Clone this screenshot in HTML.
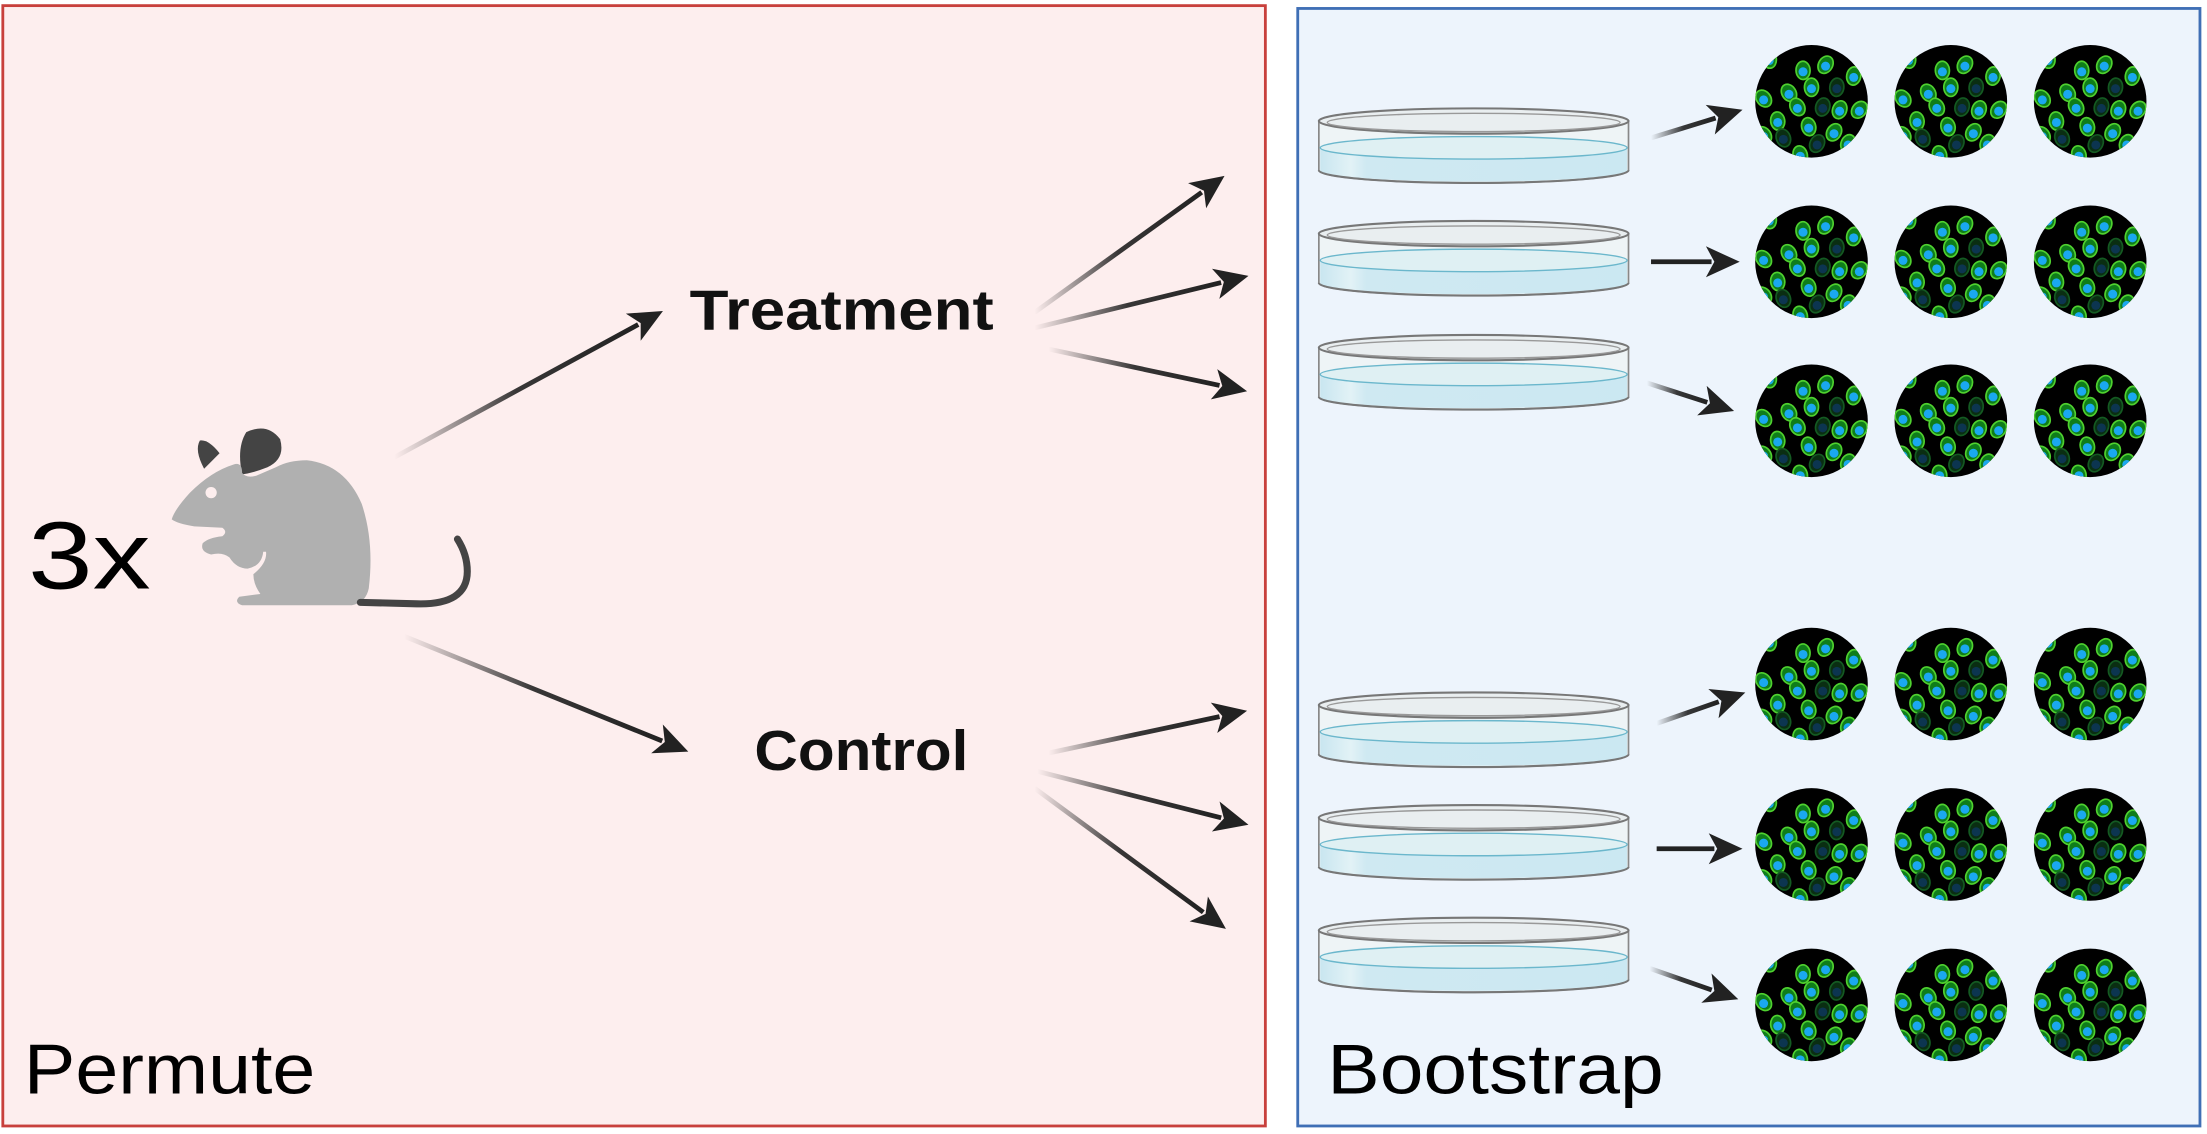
<!DOCTYPE html>
<html><head><meta charset="utf-8"><style>
html,body{margin:0;padding:0;background:#fff;}
svg{display:block;}
text{font-family:"Liberation Sans",sans-serif;}
</style></head><body>
<svg id="s" width="2207" height="1134" viewBox="0 0 1568 805.7" preserveAspectRatio="none" xmlns="http://www.w3.org/2000/svg">
<defs>
<linearGradient id="gr" x1="0" y1="0" x2="1" y2="0"><stop offset="0" stop-color="#222" stop-opacity="0"/><stop offset="0.5" stop-color="#222" stop-opacity="0.9"/><stop offset="1" stop-color="#222"/></linearGradient>
<linearGradient id="dishg" x1="0" y1="0" x2="1" y2="0"><stop offset="0" stop-color="#c9e6f0"/><stop offset="0.1" stop-color="#e2f2f6"/><stop offset="0.15" stop-color="#cfe9f2"/><stop offset="1" stop-color="#cbe8f2"/></linearGradient>
<clipPath id="cc"><circle cx="0" cy="0" r="40"/></clipPath>
<g id="dish">
<path d="M0,11 L0,46 A110,9 0 0 0 220,46 L220,11 Z" fill="#eef4f6" stroke="#888" stroke-width="1.2"/>
<path d="M1,30 L1,46 A109,8 0 0 0 219,46 L219,30 A109,8 0 0 1 1,30Z" fill="url(#dishg)"/>
<ellipse cx="110" cy="30" rx="109" ry="8" fill="#dff0f3" stroke="#6bb7cc" stroke-width="1"/>
<path d="M0,46 A110,9 0 0 0 220,46" fill="none" stroke="#777" stroke-width="1.5"/>
<ellipse cx="110" cy="11" rx="110" ry="9" fill="#e9eef0" stroke="#777" stroke-width="1.5"/>
<ellipse cx="110" cy="12" rx="104" ry="6.5" fill="none" stroke="#999" stroke-width="1"/>
</g>
<g id="cells"></g>
</defs>
<rect x="2" y="4" width="897" height="796" fill="#fdeeee" stroke="#c8403c" stroke-width="2"/>
<rect x="922" y="6" width="641" height="794" fill="#edf4fc" stroke="#3f6fb5" stroke-width="2"/>
<text x="20" y="418" font-size="68" fill="#000" textLength="87" lengthAdjust="spacingAndGlyphs">3x</text>
<text x="17" y="777" font-size="50" fill="#000" textLength="207" lengthAdjust="spacingAndGlyphs">Permute</text>
<text x="943" y="777" font-size="50" fill="#000" textLength="239" lengthAdjust="spacingAndGlyphs">Bootstrap</text>
<text x="490" y="234" font-size="40" font-weight="bold" fill="#111" textLength="216" lengthAdjust="spacingAndGlyphs">Treatment</text>
<text x="536" y="547" font-size="40" font-weight="bold" fill="#111" textLength="152" lengthAdjust="spacingAndGlyphs">Control</text>
<!-- mouse -->
<g>
<path d="M145,333 Q138,320 142,313 Q148,312 156,322 Z" fill="#444"/>
<path d="M172,337 Q168,318 175,307 Q190,300 199,312 Q203,326 190,332 Q180,336 172,337Z" fill="#444"/>
<path d="M122,369 Q124,362 135,350 Q150,335 166,330 Q172,328 172,336 Q175,340 182,338 L196,332 Q205,327 218,327 Q245,330 257,358 Q266,385 262,418 Q260,428 250,430 L172,430 Q166,428 170,424 L185,422 Q180,415 180,408 Q190,400 189,392 L187,392 Q186,402 176,404 Q168,404 163,396 Q158,392 150,394 Q142,392 144,386 Q148,382 158,381 Q162,378 158,375 L138,374 Q126,372 122,369Z" fill="#b0b0b0"/>
<circle cx="150" cy="350" r="4" fill="#fdeeee"/>
<path d="M256,428 L296,429 Q332,430 332,406 Q332,394 325,383" fill="none" stroke="#444" stroke-width="5" stroke-linecap="round"/>
</g>
<g id="arrows"></g>
<g id="objs"></g>
</svg>
<script>
var NS="http://www.w3.org/2000/svg";
function el(t,a,p){var e=document.createElementNS(NS,t);for(var k in a)e.setAttribute(k,a[k]);p.appendChild(e);return e;}
var A=document.getElementById("arrows");
function arrow(x1,y1,x2,y2,grad){
 var dx=x2-x1,dy=y2-y1,L=Math.hypot(dx,dy),ux=dx/L,uy=dy/L,h=24,w=11;
 var bx=x2-ux*h,by=y2-uy*h;
 var st=(grad&&Math.abs(dy)>2)?"url(#gr)":"#222";
 if(grad && dx<0) st="#222";
 el("line",{x1:x1,y1:y1,x2:bx+ux*4,y2:by+uy*4,stroke:st,"stroke-width":3.4},A);
 el("polygon",{points:x2+","+y2+" "+(bx-uy*w)+","+(by+ux*w)+" "+(bx+ux*6)+","+(by+uy*6)+" "+(bx+uy*w)+","+(by-ux*w),fill:"#222"},A);
}
arrow(280,325,471,221,1);arrow(287,452,489,534,1);
arrow(735,222,870,125,1);arrow(735,233,887,196,1);arrow(745,248,886,278,1);
arrow(745,535,886,505,1);arrow(737,548,887,586,1);arrow(735,560,871,660,1);
arrow(1173,98,1238,78,1);arrow(1173,186,1236,186,0);arrow(1170,272,1232,292,1);
arrow(1177,514,1240,492,1);arrow(1177,603,1238,603,0);arrow(1172,688,1235,710,1);
var O=document.getElementById("objs");
[75,155,236,490,570,650].forEach(function(y){el("use",{href:"#dish",x:937,y:y},O);});
var C=document.getElementById("cells");
el("circle",{cx:0,cy:0,r:40,fill:"#000"},C);
var g=el("g",{"clip-path":"url(#cc)"},C);
var cl=[[-30,-30,1],[-6,-22,1],[10,-26,1],[-16,-6,1],[0,-10,1],[18,-10,0],[30,-18,1],[-34,-2,1],[-24,14,1],[-10,4,1],[8,4,0],[20,6,1],[34,6,1],[-2,18,1],[16,22,1],[-20,26,0],[4,30,0],[26,30,1],[-8,38,1],[-34,24,1]];
cl.forEach(function(c){var f=c[2]?"#0f7d1a":"#0a2e12",n=c[2]?"#1aa8f0":"#0c3550";
 el("ellipse",{cx:c[0],cy:c[1],rx:5,ry:6.5,fill:f,stroke:c[2]?"#4fd12f":"#145a22","stroke-width":1.2,transform:"rotate("+(c[0]*7%40)+" "+c[0]+" "+c[1]+")"},g);
 el("circle",{cx:c[0],cy:c[1]+1,r:3.2,fill:n},g);});
[72,186,299,486,600,714].forEach(function(y){[1287,1386,1485].forEach(function(x){el("use",{href:"#cells",x:x,y:y},O);});});
</script>
</body></html>
